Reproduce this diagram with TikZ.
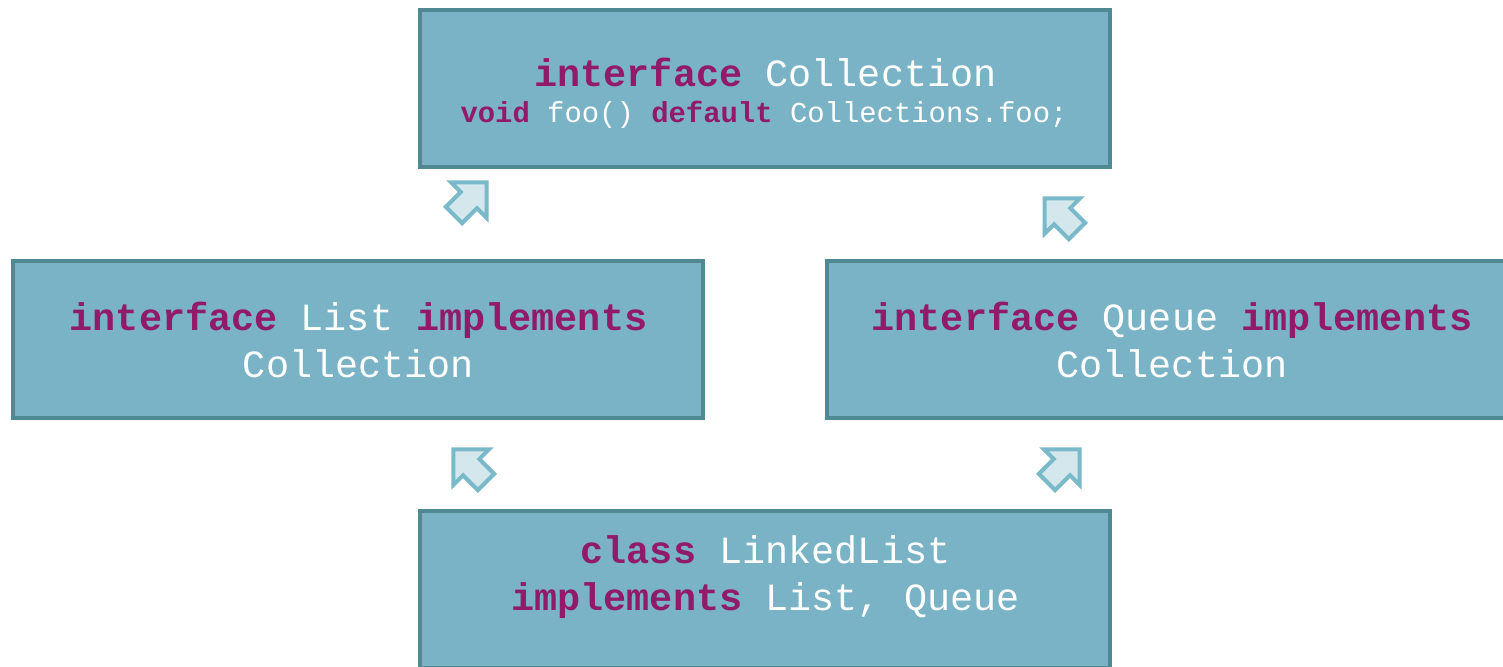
\documentclass[tikz,border=0pt]{standalone}
\usepackage{fontspec}
\setmonofont{Liberation Mono}
\definecolor{boxfill}{HTML}{79B3C5}
\definecolor{boxedge}{HTML}{4E8994}
\definecolor{kwcol}{HTML}{921A6B}
\definecolor{isafill}{HTML}{D4E7ED}
\definecolor{isaedge}{HTML}{7AB9C9}
\newcommand{\kw}[1]{\textcolor{kwcol}{\textbf{#1}}}

\begin{document}
\begin{tikzpicture}[x=1pt, y=-1pt,
	box/.style={draw=boxedge, fill=boxfill, line width=4pt, minimum width=690pt, minimum height=157pt, inner sep=0pt},
	code/.style={text=white, font=\ttfamily\fontsize{38.5}{47}\selectfont, align=center, anchor=base, inner sep=0pt},
	small/.style={code, font=\ttfamily\fontsize{28.9}{35}\selectfont},
	isa/.pic={\draw[draw=isaedge, fill=isafill, line width=4pt, line join=miter]
		(23,0) -- (-2,25) -- (-2,11.5) -- (-23,11.5) -- (-23,-11.5) -- (-2,-11.5) -- (-2,-25) -- cycle;}]
	\clip (0,0) rectangle (1503,666);
	% boxes
	\node[box] (C) at (765,88.5) {};
	\node[box] (L) at (358,339) {};
	\node[box] (Q) at (1172,339) {};
	\node[box] (LL) at (765,589.5) {};
	% texts (base = last line)
	\node[code] (Ct) at (765.5,87) {\kw{interface} Collection};
	\node[small] (Cm) at (764,123) {\kw{void} foo() \kw{default} Collections.foo;};
	\node[code] (Lt) at (358.5,377) {\kw{interface} List \kw{implements}\\Collection};
	\node[code] (Qt) at (1172,377) {\kw{interface} Queue \kw{implements}\\Collection};
	\node[code] (LLt) at (765.5,610) {\kw{class} LinkedList\\\kw{implements} List, Queue};
	% inheritance arrows
	\pic[rotate=45] at (470.25,198.75) {isa};
	\pic[rotate=135] at (1060.75,214.75) {isa};
	\pic[rotate=135] at (469.75,465.75) {isa};
	\pic[rotate=45] at (1063.25,465.75) {isa};
\end{tikzpicture}
\end{document}
